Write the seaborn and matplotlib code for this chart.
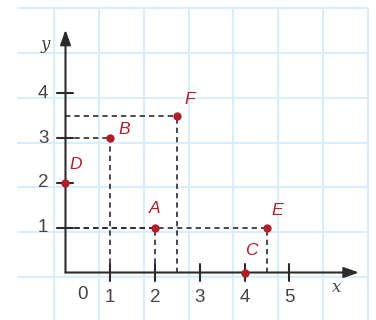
# Coordinate plane with points A-F and their projections on the axes

import matplotlib
matplotlib.use('Agg')
import matplotlib.pyplot as plt
import pandas as pd
import seaborn as sns
import numpy as np

# data
point_names = ['A', 'B', 'C', 'D', 'E', 'F']
point_x = [2, 1, 4, 0, 4.5, 2.5]
point_y = [1, 3, 0, 2, 1, 3.5]
projected = ['A', 'B', 'E', 'F']   # points with dashed guide lines
x_ticks = [1, 2, 3, 4, 5]
y_ticks = [1, 2, 3, 4]

# label offsets in pixels (dx, dy, ha)
label_offsets = {
    'A': (0, 19, 'center'),
    'B': (8, 9, 'left'),
    'C': (7, 22, 'center'),
    'D': (4, 18, 'left'),
    'E': (4, 17, 'left'),
    'F': (7, 16, 'left'),
}

red = '#b01e2a'
axis_color = '#2b2b2b'
grid_color = '#d9eefa'
label_font = ['Liberation Sans Narrow', 'Liberation Sans', 'DejaVu Sans']

df = pd.DataFrame({'name': point_names, 'x': point_x, 'y': point_y})

sns.set_style('white')
fig = plt.figure(figsize=(3.76, 3.2), dpi=100)
ax = fig.add_axes([0, 0, 1, 1])
ax.set_xlim(-1.462, 6.931)
ax.set_ylim(-1.06, 6.083)
ax.axis('off')

# light blue squared paper
grid_x = np.arange(-0.25, 6.8, 1.0)
grid_y = np.arange(-0.1, 6.0, 1.0)
ax.vlines(grid_x, -1.1, 5.9, color=grid_color, lw=1.5, zorder=0)
ax.hlines(grid_y, -1.09, 6.75, color=grid_color, lw=1.5, zorder=0)

# dashed projection lines
for _, r in df[df['name'].isin(projected)].iterrows():
    ax.plot([0, r['x']], [r['y'], r['y']], ls=(0, (3.2, 2.4)), color=axis_color, lw=1.2, zorder=2)
    ax.plot([r['x'], r['x']], [0, r['y']], ls=(0, (3.2, 2.4)), color=axis_color, lw=1.2, zorder=2)

# axes with arrows
ax.annotate('', xy=(6.55, 0), xytext=(0, 0),
            arrowprops=dict(arrowstyle='-|>,head_length=0.9,head_width=0.32', color=axis_color, lw=1.5,
                            shrinkA=0, shrinkB=0), zorder=3)
ax.annotate('', xy=(0, 5.42), xytext=(0, 0),
            arrowprops=dict(arrowstyle='-|>,head_length=0.9,head_width=0.32', color=axis_color, lw=1.5,
                            shrinkA=0, shrinkB=0), zorder=3)

# ticks
for t in x_ticks:
    ax.plot([t, t], [-0.2, 0.2], color=axis_color, lw=1.5, zorder=3)
    ax.text(t, -0.56, str(t), ha='center', va='center', fontsize=13.5, color='#454545', family=label_font)
for t in y_ticks:
    ax.plot([-0.2, 0.16], [t, t], color=axis_color, lw=1.5, zorder=3)
    ax.text(-0.5, t, str(t), ha='center', va='center', fontsize=13.5, color='#454545', family=label_font)
ax.text(0.37, -0.5, '0', ha='center', va='center', fontsize=13.5, color='#454545', family=label_font)
ax.text(6.05, -0.33, 'x', ha='center', va='center', fontsize=12, color='#454545',
        family='DejaVu Serif', style='italic')
ax.text(-0.44, 5.08, 'y', ha='center', va='center', fontsize=12, color='#454545',
        family='DejaVu Serif', style='italic')

# points
sns.scatterplot(data=df, x='x', y='y', color=red, s=36, edgecolor=red, linewidth=0, zorder=4, ax=ax)
ax.axis('off')

for _, r in df.iterrows():
    dx, dy, ha = label_offsets[r['name']]
    ax.annotate(r['name'], (r['x'], r['y']), xytext=(dx, dy), textcoords='offset pixels',
                ha=ha, va='center', fontsize=12.5, color=red, style='italic', family=label_font)

fig.savefig('out.png', dpi=100)
